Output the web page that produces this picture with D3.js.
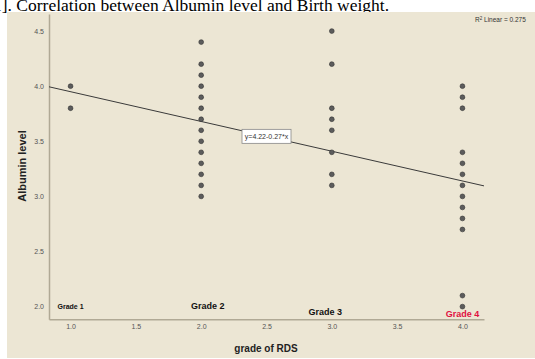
<!DOCTYPE html>
<html>
<head>
<meta charset="utf-8">
<script src="https://cdn.jsdelivr.net/npm/d3@7"></script>
<style>
  body { margin: 0; background: #fff; }
  svg { display: block; }
</style>
</head>
<body>
<svg id="chart"></svg>
<script>
// albumin level per RDS grade
const grade1 = [4.0, 3.8];
const grade2 = [4.4, 4.2, 4.1, 4.0, 3.9, 3.8, 3.7, 3.6, 3.5, 3.4, 3.3, 3.2, 3.1, 3.0];
const grade3 = [4.5, 4.2, 3.8, 3.7, 3.6, 3.4, 3.2, 3.1];
const grade4 = [4.0, 3.9, 3.8, 3.4, 3.3, 3.2, 3.1, 3.0, 2.9, 2.8, 2.7, 2.1, 2.0];

const grades = [1, 2, 3, 4];
const xTicks = [1.0, 1.5, 2.0, 2.5, 3.0, 3.5, 4.0];
const yTicks = [2.0, 2.5, 3.0, 3.5, 4.0, 4.5];

// fit line y = 4.22 - 0.27x, R2 = 0.275
const intercept = 4.22;
const slope = -0.27;
const r2 = "0.275";

const gradeLabels = ["Grade 1", "Grade 2", "Grade 3", "Grade 4"];

const points = [grade1, grade2, grade3, grade4]
  .flatMap((vals, i) => vals.map(v => ({ x: grades[i], y: v })));

// ===============================
// SETUP
// ===============================
const width = 535, height = 359;
const svg = d3.select("#chart").attr("width", width).attr("height", height);

// title strip (cropped caption)
svg.append("text")
  .attr("x", -7)
  .attr("y", 11)
  .style("font-family", "'Liberation Serif', 'Times New Roman', serif")
  .style("font-size", "17.5px")
  .attr("fill", "#000")
  .text("1]. Correlation between Albumin level and Birth weight.");

// panel background
svg.append("rect")
  .attr("x", 7).attr("y", 12)
  .attr("width", width - 7).attr("height", 346)
  .attr("fill", "#ECE6D4");

const x = d3.scaleLinear().domain([0.835, 4.165]).range([49, 484]);
const y = d3.scaleLinear().domain([1.885, 4.655]).range([319.3, 14]);

// --- AXES ---
const axisColor = "#B0A995";

const gx = svg.append("g")
  .attr("transform", `translate(0,${y.range()[0]})`)
  .call(d3.axisBottom(x).tickValues(xTicks).tickSize(0).tickPadding(5).tickFormat(d3.format(".1f")));

const gy = svg.append("g")
  .attr("transform", `translate(${x.range()[0]},0)`)
  .call(d3.axisLeft(y).tickValues(yTicks).tickSize(0).tickPadding(5).tickFormat(d3.format(".1f")));

[gx, gy].forEach(g => {
  g.select(".domain").attr("stroke", axisColor).attr("stroke-width", 1.5);
  g.selectAll("text")
    .attr("fill", "#555")
    .style("font-family", "Arial, 'Liberation Sans', sans-serif")
    .style("font-size", "7px");
});

// axis titles
svg.append("text")
  .attr("x", 266).attr("y", 352)
  .attr("text-anchor", "middle")
  .style("font-family", "Arial, 'Liberation Sans', sans-serif")
  .style("font-size", "10px")
  .style("font-weight", "bold")
  .attr("fill", "#222")
  .text("grade of RDS");

svg.append("text")
  .attr("transform", "translate(26,166) rotate(-90)")
  .attr("text-anchor", "middle")
  .style("font-family", "Arial, 'Liberation Sans', sans-serif")
  .style("font-size", "11px")
  .style("font-weight", "bold")
  .attr("fill", "#222")
  .text("Albumin level");

// ===============================
// FIT LINE
// ===============================
const [x0, x1] = x.domain();
svg.append("line")
  .attr("x1", x(x0)).attr("y1", y(intercept + slope * x0))
  .attr("x2", x(x1)).attr("y2", y(intercept + slope * x1))
  .attr("stroke", "#3a3a3a")
  .attr("stroke-width", 1);

// equation label
const eqX = 2.5, eqY = intercept + slope * eqX;
const eq = svg.append("g").attr("transform", `translate(${x(eqX)},${y(eqY)})`);
eq.append("rect")
  .attr("x", -24.5).attr("y", -7)
  .attr("width", 49).attr("height", 14)
  .attr("fill", "#fff")
  .attr("stroke", "#888")
  .attr("stroke-width", 0.8);
eq.append("text")
  .attr("text-anchor", "middle")
  .attr("y", 2.5)
  .style("font-family", "Arial, 'Liberation Sans', sans-serif")
  .style("font-size", "7px")
  .attr("fill", "#333")
  .text(`y=${intercept.toFixed(2)}-${Math.abs(slope).toFixed(2)}*x`);

// R2 label
const r2t = svg.append("text")
  .attr("x", 475).attr("y", 22)
  .style("font-family", "Arial, 'Liberation Sans', sans-serif")
  .style("font-size", "6.5px")
  .attr("fill", "#333");
r2t.append("tspan").text("R");
r2t.append("tspan").attr("dy", -2.5).style("font-size", "4.5px").text("2");
r2t.append("tspan").attr("dy", 2.5).text(` Linear = ${r2}`);

// ===============================
// POINTS
// ===============================
svg.append("g")
  .selectAll("circle")
  .data(points)
  .join("circle")
  .attr("cx", d => x(d.x))
  .attr("cy", d => y(d.y))
  .attr("r", 2.4)
  .attr("fill", "#5c5c5c")
  .attr("stroke", "#333")
  .attr("stroke-width", 0.6);

// ===============================
// GRADE ANNOTATIONS
// ===============================
const labelPos = [
  { gx: 1.0, gy: 1.98, size: 7, color: "#111" },
  { gx: 2.05, gy: 1.98, size: 9, color: "#111" },
  { gx: 2.95, gy: 1.925, size: 9, color: "#111" },
  { gx: 4.0, gy: 1.91, size: 9, color: "#E0103F" }
];
svg.append("g")
  .selectAll("text")
  .data(gradeLabels)
  .join("text")
  .attr("x", (d, i) => x(labelPos[i].gx))
  .attr("y", (d, i) => y(labelPos[i].gy))
  .attr("text-anchor", "middle")
  .style("font-family", "Arial, 'Liberation Sans', sans-serif")
  .style("font-weight", "bold")
  .style("font-size", (d, i) => labelPos[i].size + "px")
  .attr("fill", (d, i) => labelPos[i].color)
  .text(d => d);
</script>
</body>
</html>
